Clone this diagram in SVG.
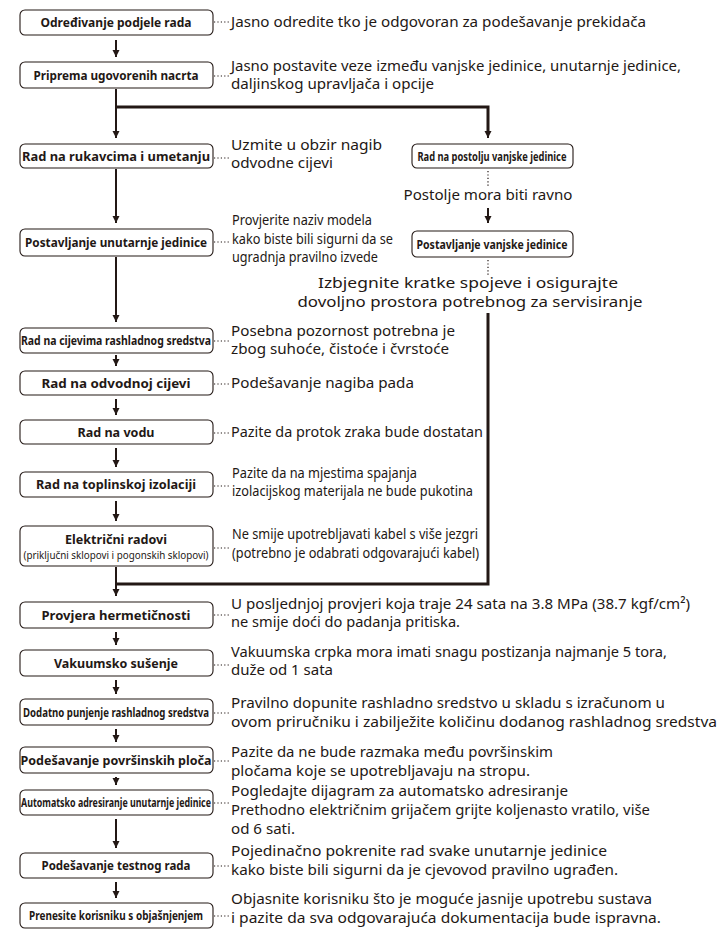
<svg xmlns="http://www.w3.org/2000/svg" width="724" height="933" viewBox="0 0 724 933">
<style>
.box{fill:#fff;stroke:#231815;stroke-width:1.1}
.lbl{font-family:"Noto Sans","Liberation Sans",sans-serif;font-weight:bold;font-size:13px;fill:#231815;text-anchor:middle}
.sub{font-family:"Noto Sans","Liberation Sans",sans-serif;font-size:10.5px;fill:#231815;text-anchor:middle}
.note{font-family:"Noto Sans","Liberation Sans",sans-serif;font-size:15px;fill:#231815}
.nc{font-family:"Noto Sans","Liberation Sans",sans-serif;font-size:14px;fill:#231815}
.arr{stroke:#231815;stroke-width:2;fill:none}
.thick{stroke:#231815;stroke-width:3;fill:none}
.dot{stroke:#231815;stroke-width:1.2;stroke-dasharray:1.2 2.2;fill:none}
</style>
<defs>
<marker id="ah" markerUnits="userSpaceOnUse" markerWidth="8" markerHeight="8" refX="7" refY="4" orient="auto">
<path d="M0,0.5 L7,4 L0,7.5 z" fill="#231815"/>
</marker>
</defs>

<g id="connectors">
<line class="arr" x1="116" y1="40" x2="116" y2="57" marker-end="url(#ah)"/>
<line class="arr" x1="116" y1="89" x2="116" y2="138" marker-end="url(#ah)"/>
<path class="thick" d="M116,107 H488 V132"/>
<line class="arr" x1="488" y1="130" x2="488" y2="138" marker-end="url(#ah)"/>
<line class="arr" x1="116" y1="169" x2="116" y2="223" marker-end="url(#ah)"/>
<line class="arr" x1="116" y1="257" x2="116" y2="322" marker-end="url(#ah)"/>
<line class="arr" x1="116" y1="355" x2="116" y2="366" marker-end="url(#ah)"/>
<line class="arr" x1="116" y1="399" x2="116" y2="415" marker-end="url(#ah)"/>
<line class="arr" x1="116" y1="448" x2="116" y2="467" marker-end="url(#ah)"/>
<line class="arr" x1="116" y1="501" x2="116" y2="521" marker-end="url(#ah)"/>
<path class="thick" d="M488,313 V584 H116"/>
<line class="arr" x1="116" y1="567" x2="116" y2="596" marker-end="url(#ah)"/>
<line class="arr" x1="116" y1="632" x2="116" y2="645" marker-end="url(#ah)"/>
<line class="arr" x1="116" y1="680" x2="116" y2="694" marker-end="url(#ah)"/>
<line class="arr" x1="116" y1="729" x2="116" y2="742" marker-end="url(#ah)"/>
<line class="arr" x1="116" y1="777" x2="116" y2="785" marker-end="url(#ah)"/>
<line class="arr" x1="116" y1="819" x2="116" y2="848" marker-end="url(#ah)"/>
<line class="arr" x1="116" y1="882" x2="116" y2="898" marker-end="url(#ah)"/>
<line class="arr" x1="488" y1="208" x2="488" y2="223" marker-end="url(#ah)"/>
<line class="dot" x1="488" y1="171" x2="488" y2="186"/>
<line class="dot" x1="488" y1="260" x2="488" y2="275"/>
<line class="dot" x1="214" y1="22" x2="230" y2="22"/>
<line class="dot" x1="214" y1="76" x2="230" y2="76"/>
<line class="dot" x1="214" y1="158" x2="230" y2="158"/>
<line class="dot" x1="214" y1="242" x2="230" y2="242"/>
<line class="dot" x1="214" y1="341" x2="230" y2="341"/>
<line class="dot" x1="214" y1="384" x2="230" y2="384"/>
<line class="dot" x1="214" y1="433" x2="230" y2="433"/>
<line class="dot" x1="214" y1="486" x2="230" y2="486"/>
<line class="dot" x1="214" y1="548" x2="230" y2="548"/>
<line class="dot" x1="214" y1="615" x2="230" y2="615"/>
<line class="dot" x1="214" y1="665" x2="230" y2="665"/>
<line class="dot" x1="214" y1="713" x2="230" y2="713"/>
<line class="dot" x1="214" y1="761" x2="230" y2="761"/>
<line class="dot" x1="214" y1="803" x2="230" y2="803"/>
<line class="dot" x1="214" y1="866" x2="230" y2="866"/>
<line class="dot" x1="214" y1="916" x2="230" y2="916"/>
</g>

<g id="n1"><rect class="box" x="20" y="10" width="193" height="25" rx="5"/><text class="lbl" x="116" y="27" textLength="151" lengthAdjust="spacingAndGlyphs">Određivanje podjele rada</text>
<text class="note" x="231" y="27" textLength="415" lengthAdjust="spacingAndGlyphs">Jasno odredite tko je odgovoran za podešavanje prekidača</text></g>

<g id="n2"><rect class="box" x="20" y="62" width="193" height="26" rx="5"/><text class="lbl" x="116" y="80" textLength="165" lengthAdjust="spacingAndGlyphs">Priprema ugovorenih nacrta</text>
<text class="note" x="231" y="71" textLength="450" lengthAdjust="spacingAndGlyphs">Jasno postavite veze između vanjske jedinice, unutarnje jedinice,</text>
<text class="note" x="231" y="89" textLength="203" lengthAdjust="spacingAndGlyphs">daljinskog upravljača i opcije</text></g>

<g id="n3"><rect class="box" x="20" y="144" width="193" height="24" rx="5"/><text class="lbl" x="116" y="161" textLength="188" lengthAdjust="spacingAndGlyphs">Rad na rukavcima i umetanju</text>
<text class="note" x="231" y="150" textLength="151" lengthAdjust="spacingAndGlyphs">Uzmite u obzir nagib</text>
<text class="note" x="231" y="168" textLength="102" lengthAdjust="spacingAndGlyphs">odvodne cijevi</text></g>

<g id="r1"><rect class="box" x="412" y="144" width="161" height="24" rx="5"/><text class="lbl" x="492" y="161" textLength="149" lengthAdjust="spacingAndGlyphs">Rad na postolju vanjske jedinice</text>
<text class="note" x="488" y="200" text-anchor="middle" textLength="169" lengthAdjust="spacingAndGlyphs">Postolje mora biti ravno</text></g>

<g id="r2"><rect class="box" x="412" y="231" width="161" height="26" rx="5"/><text class="lbl" x="492" y="249" textLength="151" lengthAdjust="spacingAndGlyphs">Postavljanje vanjske jedinice</text>
<text class="note" x="468" y="288" text-anchor="middle" textLength="300" lengthAdjust="spacingAndGlyphs">Izbjegnite kratke spojeve i osigurajte</text>
<text class="note" x="470" y="307" text-anchor="middle" textLength="345" lengthAdjust="spacingAndGlyphs">dovoljno prostora potrebnog za servisiranje</text></g>

<g id="n4"><rect class="box" x="20" y="229" width="193" height="27" rx="5"/><text class="lbl" x="116" y="247" textLength="182" lengthAdjust="spacingAndGlyphs">Postavljanje unutarnje jedinice</text>
<text class="nc" x="232" y="225" textLength="140" lengthAdjust="spacingAndGlyphs">Provjerite naziv modela</text>
<text class="nc" x="232" y="244" textLength="161" lengthAdjust="spacingAndGlyphs">kako biste bili sigurni da se</text>
<text class="nc" x="232" y="262" textLength="146" lengthAdjust="spacingAndGlyphs">ugradnja pravilno izvede</text></g>

<g id="n5"><rect class="box" x="20" y="328" width="193" height="25" rx="5"/><text class="lbl" x="116" y="345" textLength="190" lengthAdjust="spacingAndGlyphs">Rad na cijevima rashladnog sredstva</text>
<text class="note" x="231" y="336" textLength="224" lengthAdjust="spacingAndGlyphs">Posebna pozornost potrebna je</text>
<text class="note" x="231" y="354" textLength="218" lengthAdjust="spacingAndGlyphs">zbog suhoće, čistoće i čvrstoće</text></g>

<g id="n6"><rect class="box" x="20" y="371" width="193" height="24" rx="5"/><text class="lbl" x="116" y="388" textLength="149" lengthAdjust="spacingAndGlyphs">Rad na odvodnoj cijevi</text>
<text class="note" x="231" y="388" textLength="183" lengthAdjust="spacingAndGlyphs">Podešavanje nagiba pada</text></g>

<g id="n7"><rect class="box" x="20" y="420" width="193" height="24" rx="5"/><text class="lbl" x="116" y="437" textLength="77" lengthAdjust="spacingAndGlyphs">Rad na vodu</text>
<text class="note" x="231" y="437" textLength="252" lengthAdjust="spacingAndGlyphs">Pazite da protok zraka bude dostatan</text></g>

<g id="n8"><rect class="box" x="20" y="472" width="193" height="25" rx="5"/><text class="lbl" x="116" y="489" textLength="160" lengthAdjust="spacingAndGlyphs">Rad na toplinskoj izolaciji</text>
<text class="nc" x="232" y="478" textLength="185" lengthAdjust="spacingAndGlyphs">Pazite da na mjestima spajanja</text>
<text class="nc" x="232" y="496" textLength="241" lengthAdjust="spacingAndGlyphs">izolacijskog materijala ne bude pukotina</text></g>

<g id="n9"><rect class="box" x="20" y="526" width="193" height="40" rx="5"/><text class="lbl" x="116" y="544" textLength="102" lengthAdjust="spacingAndGlyphs">Električni radovi</text>
<text class="sub" x="116" y="559" textLength="185" lengthAdjust="spacingAndGlyphs">(priključni sklopovi i pogonskih sklopovi)</text>
<text class="nc" x="232" y="539" textLength="246" lengthAdjust="spacingAndGlyphs">Ne smije upotrebljavati kabel s više jezgri</text>
<text class="nc" x="232" y="558" textLength="247" lengthAdjust="spacingAndGlyphs">(potrebno je odabrati odgovarajući kabel)</text></g>

<g id="n10"><rect class="box" x="20" y="602" width="193" height="26" rx="5"/><text class="lbl" x="116" y="620" textLength="149" lengthAdjust="spacingAndGlyphs">Provjera hermetičnosti</text>
<text class="note" x="231" y="609" textLength="459" lengthAdjust="spacingAndGlyphs">U posljednjoj provjeri koja traje 24 sata na 3.8 MPa (38.7 kgf/cm²)</text>
<text class="note" x="231" y="627" textLength="229" lengthAdjust="spacingAndGlyphs">ne smije doći do padanja pritiska.</text></g>

<g id="n11"><rect class="box" x="20" y="650" width="193" height="26" rx="5"/><text class="lbl" x="116" y="668" textLength="124" lengthAdjust="spacingAndGlyphs">Vakuumsko sušenje</text>
<text class="note" x="231" y="657" textLength="436" lengthAdjust="spacingAndGlyphs">Vakuumska crpka mora imati snagu postizanja najmanje 5 tora,</text>
<text class="note" x="231" y="675" textLength="102" lengthAdjust="spacingAndGlyphs">duže od 1 sata</text></g>

<g id="n12"><rect class="box" x="20" y="699" width="193" height="26" rx="5"/><text class="lbl" x="116" y="717" textLength="186" lengthAdjust="spacingAndGlyphs">Dodatno punjenje rashladnog sredstva</text>
<text class="note" x="231" y="708" textLength="434" lengthAdjust="spacingAndGlyphs">Pravilno dopunite rashladno sredstvo u skladu s izračunom u</text>
<text class="note" x="231" y="727" textLength="486" lengthAdjust="spacingAndGlyphs">ovom priručniku i zabilježite količinu dodanog rashladnog sredstva</text></g>

<g id="n13"><rect class="box" x="20" y="747" width="193" height="26" rx="5"/><text class="lbl" x="116" y="765" textLength="191" lengthAdjust="spacingAndGlyphs">Podešavanje površinskih ploča</text>
<text class="note" x="231" y="757" textLength="322" lengthAdjust="spacingAndGlyphs">Pazite da ne bude razmaka među površinskim</text>
<text class="note" x="231" y="776" textLength="299" lengthAdjust="spacingAndGlyphs">pločama koje se upotrebljavaju na stropu.</text></g>

<g id="n14"><rect class="box" x="20" y="790" width="193" height="25" rx="5"/><text class="lbl" x="116" y="807" textLength="190" lengthAdjust="spacingAndGlyphs">Automatsko adresiranje unutarnje jedinice</text>
<text class="note" x="231" y="796" textLength="337" lengthAdjust="spacingAndGlyphs">Pogledajte dijagram za automatsko adresiranje</text>
<text class="note" x="231" y="815" textLength="419" lengthAdjust="spacingAndGlyphs">Prethodno električnim grijačem grijte koljenasto vratilo, više</text>
<text class="note" x="231" y="834" textLength="64" lengthAdjust="spacingAndGlyphs">od 6 sati.</text></g>

<g id="n15"><rect class="box" x="20" y="853" width="193" height="25" rx="5"/><text class="lbl" x="116" y="870" textLength="149" lengthAdjust="spacingAndGlyphs">Podešavanje testnog rada</text>
<text class="note" x="231" y="856" textLength="376" lengthAdjust="spacingAndGlyphs">Pojedinačno pokrenite rad svake unutarnje jedinice</text>
<text class="note" x="231" y="875" textLength="387" lengthAdjust="spacingAndGlyphs">kako biste bili sigurni da je cjevovod pravilno ugrađen.</text></g>

<g id="n16"><rect class="box" x="20" y="903" width="193" height="25" rx="5"/><text class="lbl" x="116" y="920" textLength="174" lengthAdjust="spacingAndGlyphs">Prenesite korisniku s objašnjenjem</text>
<text class="note" x="231" y="904" textLength="421" lengthAdjust="spacingAndGlyphs">Objasnite korisniku što je moguće jasnije upotrebu sustava</text>
<text class="note" x="231" y="923" textLength="430" lengthAdjust="spacingAndGlyphs">i pazite da sva odgovarajuća dokumentacija bude ispravna.</text></g>
</svg>
